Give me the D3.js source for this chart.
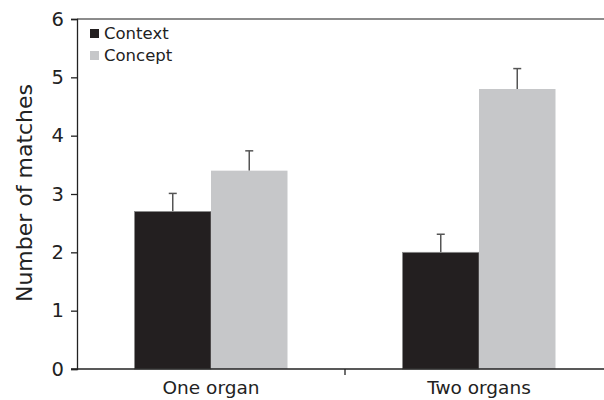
<!DOCTYPE html>
<html><head><meta charset="utf-8">
<script src="https://cdn.jsdelivr.net/npm/d3@7"></script>
<style>body{margin:0;background:#fff}svg{display:block}text{font-family:"DejaVu Sans",Verdana,sans-serif}</style>
</head><body><svg id="c" width="604" height="400"></svg>
<script>
const categories = ["One organ", "Two organs"];
const seriesNames = ["Context", "Concept"];
const contextValues = [2.7, 2.0];
const conceptValues = [3.4, 4.8];
const contextErrors = [0.31, 0.31];
const conceptErrors = [0.34, 0.35];
const yTicks = [0, 1, 2, 3, 4, 5, 6];
const colors = ["#231f20", "#c6c7c9"];

(function () {
const svg = d3.select("#c");
const mLeft = 77, mRight = 613, mTop = 19, mBottom = 369;
const x = d3.scaleBand().domain(categories).range([mLeft, mRight]).paddingInner(0).paddingOuter(0);
const y = d3.scaleLinear().domain([0, 6]).range([mBottom, mTop]);

// top frame line
svg.append("line").attr("x1", mLeft).attr("x2", 604).attr("y1", y(6)).attr("y2", y(6))
  .attr("stroke", "#8c8c8c").attr("stroke-width", 2);

const series = [contextValues, conceptValues];
const errs = [contextErrors, conceptErrors];
const bw = 76.5;
seriesNames.forEach((s, si) => {
  categories.forEach((c, ci) => {
    const cx = x(c) + x.bandwidth() / 2;
    const x0 = cx + (si === 0 ? -bw : 0);
    const v = series[si][ci];
    const xe = x0 + bw / 2;
    svg.append("line").attr("x1", xe).attr("x2", xe).attr("y1", y(v)).attr("y2", y(v + errs[si][ci]))
      .attr("stroke", "#555").attr("stroke-width", 1.5);
    svg.append("line").attr("x1", xe - 4).attr("x2", xe + 4).attr("y1", y(v + errs[si][ci])).attr("y2", y(v + errs[si][ci]))
      .attr("stroke", "#555").attr("stroke-width", 1.5);
    svg.append("rect").attr("x", x0).attr("y", y(v)).attr("width", bw).attr("height", y(0) - y(v))
      .attr("fill", colors[si]).attr("stroke", si === 0 ? "#8a8a8a" : "none").attr("stroke-width", 0.8);
  });
});

// y axis
const yAxis = svg.append("g").attr("transform", `translate(${mLeft},0)`)
  .call(d3.axisLeft(y).tickValues(yTicks).tickFormat(d3.format("d")).tickSize(6).tickPadding(7));
yAxis.select(".domain").attr("stroke", "#222").attr("stroke-width", 1.3);
yAxis.selectAll(".tick line").attr("stroke", "#222").attr("stroke-width", 1.3);
yAxis.selectAll("text").attr("font-size", 19.5).attr("fill", "#222");

// x axis
const xAxis = svg.append("g").attr("transform", `translate(0,${mBottom})`);
xAxis.append("line").attr("x1", mLeft - 6).attr("x2", 604).attr("stroke", "#222").attr("stroke-width", 1.3);
xAxis.append("line").attr("x1", x(categories[1])).attr("x2", x(categories[1])).attr("y1", 0).attr("y2", 6)
  .attr("stroke", "#222").attr("stroke-width", 1.3);
categories.forEach(c => {
  xAxis.append("text").attr("x", x(c) + x.bandwidth() / 2).attr("y", 25).attr("text-anchor", "middle")
    .attr("font-size", 18.5).attr("fill", "#222").text(c);
});

// y title
svg.append("text").attr("transform", "translate(32,193) rotate(-90)").attr("text-anchor", "middle")
  .attr("font-size", 22).attr("fill", "#222").text("Number of matches");

// legend
seriesNames.forEach((s, i) => {
  const ly = 29 + i * 22;
  svg.append("rect").attr("x", 90).attr("y", ly).attr("width", 9).attr("height", 9).attr("fill", colors[i]);
  svg.append("text").attr("x", 104).attr("y", ly + 9.5).attr("font-size", 16.5).attr("fill", "#222").text(s);
});
})();
</script></body></html>
